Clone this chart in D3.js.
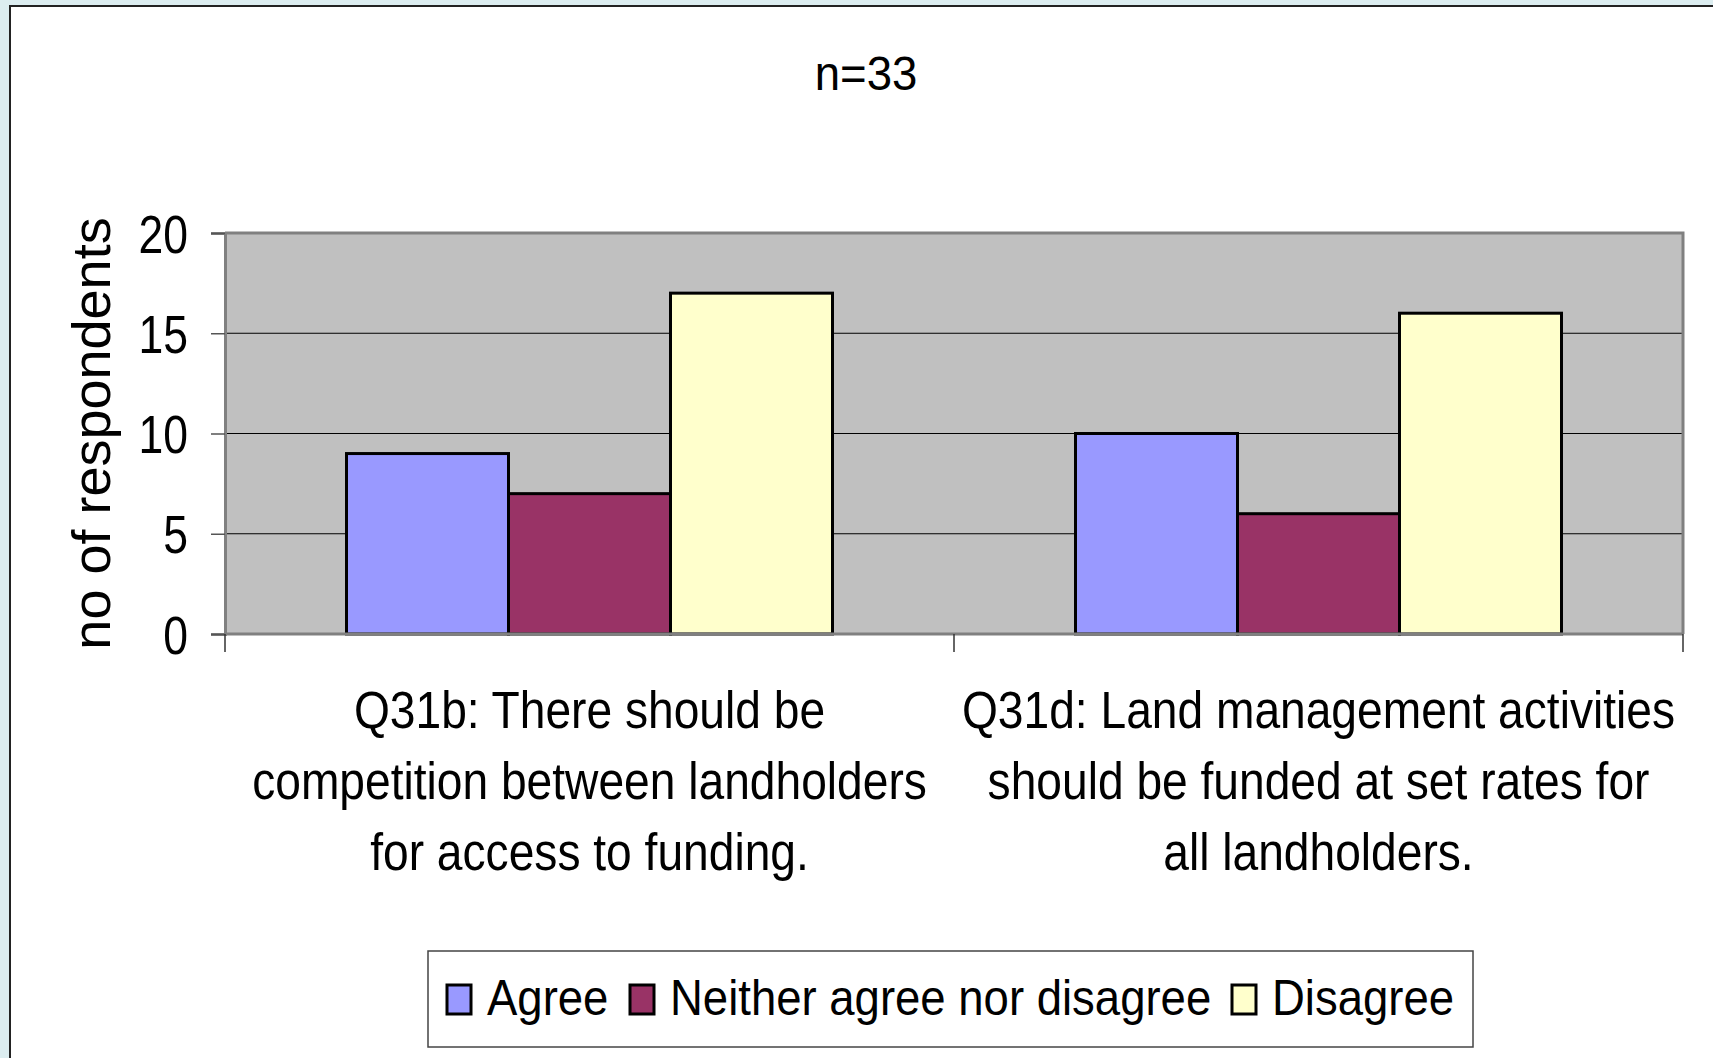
<!DOCTYPE html>
<html>
<head>
<meta charset="utf-8">
<script src="https://cdn.jsdelivr.net/npm/d3@7"></script>
<style>
  body { margin: 0; background: #dcedf0; }
  svg { display: block; }
  text { font-family: "Liberation Sans", Arial, sans-serif; fill: #000; }
</style>
</head>
<body>
<script>
// chart data
const categories = ['Q31b', 'Q31d'];
const categoryLines = [
  ['Q31b: There should be', 'competition between landholders', 'for access to funding.'],
  ['Q31d: Land management activities', 'should be funded at set rates for', 'all landholders.']
];
const seriesNames = ['Agree', 'Neither agree nor disagree', 'Disagree'];
const agreeValues = [9, 10];
const neitherValues = [7, 6];
const disagreeValues = [17, 16];
const yTicks = [0, 5, 10, 15, 20];
const seriesColors = ['#9999ff', '#993366', '#ffffcc'];

const W = 1713, H = 1058;
const plot = { left: 225, right: 1683, top: 233, bottom: 634 };

// the original uses a narrow face, so text is squeezed sideways
const squeeze = (tx, ty, sx) => `translate(${tx},${ty}) scale(${sx},1)`;

const svg = d3.select('body')
  .append('svg')
  .attr('width', W)
  .attr('height', H);

// white panel with dark edge top/left
svg.append('rect')
  .attr('x', 10).attr('y', 6)
  .attr('width', W).attr('height', H)
  .attr('fill', '#fff')
  .attr('stroke', '#222')
  .attr('stroke-width', 2);

const x = d3.scaleBand()
  .domain(categories)
  .range([plot.left, plot.right]);

const xInner = d3.scaleBand()
  .domain(seriesNames)
  .range([x.bandwidth() / 6, x.bandwidth() * 5 / 6]);

const y = d3.scaleLinear()
  .domain([0, 20])
  .range([plot.bottom, plot.top]);

const color = d3.scaleOrdinal().domain(seriesNames).range(seriesColors);

// plot background
svg.append('rect')
  .attr('x', plot.left).attr('y', plot.top)
  .attr('width', plot.right - plot.left)
  .attr('height', plot.bottom - plot.top)
  .attr('fill', '#c0c0c0');

// gridlines
svg.append('g')
  .selectAll('line')
  .data(yTicks.filter(d => d > 0 && d < 20))
  .enter()
  .append('line')
  .attr('x1', plot.left).attr('x2', plot.right)
  .attr('y1', d => y(d)).attr('y2', d => y(d))
  .attr('stroke', '#000')
  .attr('stroke-width', 1.2);

// plot border top/right
svg.append('path')
  .attr('d', `M${plot.left},${plot.top}H${plot.right}V${plot.bottom}`)
  .attr('fill', 'none')
  .attr('stroke', '#808080')
  .attr('stroke-width', 3);

// bars
const rows = categories.map((c, i) => ({
  cat: c,
  values: [agreeValues[i], neitherValues[i], disagreeValues[i]]
}));

const groups = svg.append('g')
  .selectAll('g')
  .data(rows)
  .enter()
  .append('g')
  .attr('transform', d => `translate(${x(d.cat)},0)`);

groups.selectAll('rect')
  .data(d => d.values.map((v, j) => ({ name: seriesNames[j], value: v })))
  .enter()
  .append('rect')
  .attr('x', d => xInner(d.name))
  .attr('y', d => y(d.value))
  .attr('width', xInner.bandwidth())
  .attr('height', d => y(0) - y(d.value))
  .attr('fill', d => color(d.name))
  .attr('stroke', '#000')
  .attr('stroke-width', 3);

// y axis
const yAxis = svg.append('g')
  .attr('transform', `translate(${plot.left},0)`)
  .call(d3.axisLeft(y).tickValues(yTicks).tickSize(14));
yAxis.select('.domain').attr('stroke', '#808080').attr('stroke-width', 3);
yAxis.selectAll('.tick line').attr('stroke', '#555').attr('stroke-width', 1.5);
yAxis.selectAll('.tick text')
  .attr('x', 0)
  .attr('transform', squeeze(-37, 0, 0.84))
  .attr('font-size', 53)
  .attr('dy', '0.36em')
  .style('font-family', null);

// x axis
const xAxis = svg.append('g')
  .attr('transform', `translate(0,${plot.bottom})`);
xAxis.append('line')
  .attr('x1', plot.left).attr('x2', plot.right)
  .attr('stroke', '#808080').attr('stroke-width', 3);
xAxis.selectAll('line.tk')
  .data([plot.left, ...categories.map(c => x(c) + x.bandwidth())])
  .enter()
  .append('line')
  .attr('class', 'tk')
  .attr('x1', d => d).attr('x2', d => d)
  .attr('y1', 0).attr('y2', 18)
  .attr('stroke', '#333').attr('stroke-width', 1.5);

// category labels
const labels = svg.append('g')
  .selectAll('text')
  .data(categories)
  .enter()
  .append('text')
  .attr('text-anchor', 'middle')
  .attr('font-size', 51)
  .attr('transform', d => squeeze(x(d) + x.bandwidth() / 2, 728, 0.905));
labels.selectAll('tspan')
  .data((d, i) => categoryLines[i])
  .enter()
  .append('tspan')
  .attr('x', 0)
  .attr('y', (d, i) => i * 71)
  .text(d => d);

// y axis title
svg.append('text')
  .attr('transform', `translate(110,${(plot.top + plot.bottom) / 2}) rotate(-90)`)
  .attr('text-anchor', 'middle')
  .attr('font-size', 54)
  .text('no of respondents');

// title
svg.append('text')
  .attr('transform', squeeze(866, 90, 0.93))
  .attr('text-anchor', 'middle')
  .attr('font-size', 49)
  .text('n=33');

// legend
const legend = svg.append('g');
legend.append('rect')
  .attr('x', 428).attr('y', 951)
  .attr('width', 1045).attr('height', 96)
  .attr('fill', '#fff')
  .attr('stroke', '#444')
  .attr('stroke-width', 1.5);

const legendX = [447, 630, 1232];
const items = legend.selectAll('g.item')
  .data(seriesNames)
  .enter()
  .append('g')
  .attr('class', 'item')
  .attr('transform', (d, i) => `translate(${legendX[i]},0)`);
items.append('rect')
  .attr('x', 0).attr('y', 985)
  .attr('width', 24).attr('height', 29)
  .attr('fill', d => color(d))
  .attr('stroke', '#000')
  .attr('stroke-width', 3);
items.append('text')
  .attr('transform', squeeze(40, 1015, 0.91))
  .attr('font-size', 50)
  .text(d => d);
</script>
</body>
</html>
